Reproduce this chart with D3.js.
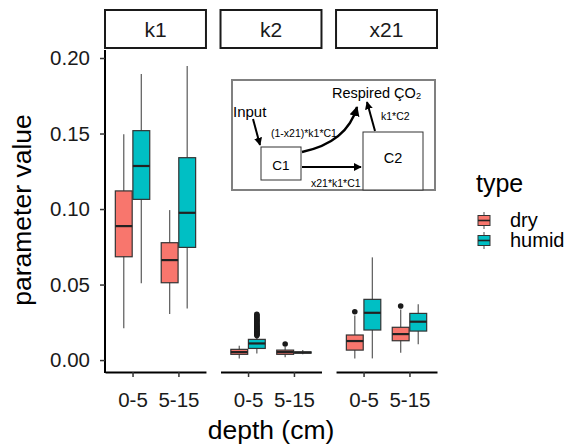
<!DOCTYPE html>
<html>
<head>
<meta charset="utf-8">
<script src="https://cdn.jsdelivr.net/npm/d3@7"></script>
<style>
body { margin: 0; background: white; }
text { font-family: "Liberation Sans", Arial, sans-serif; }
</style>
</head>
<body>
<svg></svg>
<script>
var params = ["k1", "k2", "x21"];
var depths = ["0-5", "5-15"];
var types = ["dry", "humid"];
var yTicks = [0, 0.05, 0.10, 0.15, 0.20];

// [low whisker, q1, median, q3, high whisker]
// order: k1 0-5, k1 5-15, k2 0-5, k2 5-15, x21 0-5, x21 5-15
var dryStats = [
	[0.021, 0.0684, 0.0887, 0.112, 0.1495],
	[0.0305, 0.0512, 0.0662, 0.0777, 0.0993],
	[0.0011, 0.0038, 0.0053, 0.0071, 0.0095],
	[0.0018, 0.0038, 0.0053, 0.0066, 0.0088],
	[0.0011, 0.0066, 0.0126, 0.0166, 0.0295],
	[0.0048, 0.0128, 0.0172, 0.0217, 0.0335]
];
var humidStats = [
	[0.0508, 0.1064, 0.1285, 0.1519, 0.1894],
	[0.0342, 0.0746, 0.0975, 0.134, 0.1947],
	[0.0044, 0.0077, 0.011, 0.0137, 0.0158],
	[0.0038, 0.0046, 0.005, 0.0054, 0.0066],
	[0.0011, 0.0199, 0.0313, 0.0402, 0.068],
	[0.0104, 0.0192, 0.0254, 0.0309, 0.0369]
];
var dryOutliers = [[], [], [], [0.0106], [0.032], [0.0358]];
var humidOutliers = [[], [], [0.0162, 0.0167, 0.0171, 0.0176, 0.018, 0.0185, 0.019, 0.0194, 0.0199, 0.0204,
	0.0209, 0.0214, 0.0219, 0.0224, 0.0229, 0.0234, 0.024, 0.0246, 0.0252, 0.0258, 0.0264, 0.027,
	0.0276, 0.0282, 0.0289, 0.0296, 0.0303], [], [], []];

var fills = {dry: "#F8766D", humid: "#00BFC4"};

var svg = d3.select("svg").attr("width", 572).attr("height", 447).style("background-color", "white");

var top_ = 50, bottom = 372;
var y = d3.scaleLinear().domain([-0.0079, 0.2053]).range([bottom, top_]);
var panel = d3.scaleBand().domain(params).range([105, 437]).paddingInner(0.126);
var w = panel.bandwidth();
var xDepth = d3.scalePoint().domain(depths).range([0, w]).padding(0.6);
var step = xDepth.step();
var xType = d3.scaleBand().domain(types).range([-0.375 * step, 0.375 * step]).paddingInner(0.04);

var boxes = [];
params.forEach(function(p, i){
	depths.forEach(function(d, j){
		types.forEach(function(t){
			var s = (t == "dry" ? dryStats : humidStats)[i * 2 + j];
			var o = (t == "dry" ? dryOutliers : humidOutliers)[i * 2 + j];
			boxes.push({param: p, depth: d, type: t, s: s, out: o});
		});
	});
});

function cx(b){ return panel(b.param) + xDepth(b.depth) + xType(b.type) + xType.bandwidth() / 2; }

// strips
params.forEach(function(p){
	svg.append("rect").attr("x", panel(p)).attr("y", 10).attr("width", w).attr("height", 38)
		.style("fill", "white").style("stroke", "#1a1a1a").style("stroke-width", 2);
	svg.append("text").attr("x", panel(p) + w / 2).attr("y", 37).attr("text-anchor", "middle")
		.style("font-size", "21px").style("fill", "#1a1a1a").text(p);
});

// y axis
var yAxis = svg.append("g").attr("transform", "translate(105,0)")
	.call(d3.axisLeft(y).tickValues(yTicks).tickFormat(d3.format(".2f")).tickSize(5).tickSizeOuter(0).tickPadding(10));
yAxis.select(".domain").attr("d", "M0," + top_ + "V" + (bottom + 1));

// x axes
params.forEach(function(p){
	svg.append("g").attr("class", "xax").attr("transform", "translate(" + panel(p) + "," + bottom + ")")
		.call(d3.axisBottom(xDepth).tickSize(5).tickSizeOuter(0).tickPadding(15));
});

svg.selectAll(".domain").style("stroke", "black").style("stroke-width", 2);
svg.selectAll(".tick line").style("stroke", "#333").style("stroke-width", 1.5);
svg.selectAll(".tick text").style("font-size", "20.5px").style("fill", "#1a1a1a").style("font-family", "Liberation Sans, Arial, sans-serif");

// boxes
var g = svg.append("g");
var bw = xType.bandwidth();
boxes.forEach(function(b){
	var x = cx(b);
	g.append("line").attr("x1", x).attr("x2", x).attr("y1", y(b.s[0])).attr("y2", y(b.s[4]))
		.style("stroke", "#666").style("stroke-width", 1.3);
	g.append("rect").attr("x", x - bw / 2).attr("width", bw)
		.attr("y", y(b.s[3])).attr("height", y(b.s[1]) - y(b.s[3]))
		.style("fill", fills[b.type]).style("stroke", "#333").style("stroke-width", 1.2);
	g.append("line").attr("x1", x - bw / 2).attr("x2", x + bw / 2).attr("y1", y(b.s[2])).attr("y2", y(b.s[2]))
		.style("stroke", "#222").style("stroke-width", 2.2);
	g.selectAll(null).data(b.out).enter().append("circle")
		.attr("cx", x).attr("cy", function(v){ return y(v); }).attr("r", 2.8)
		.style("fill", "#1a1a1a");
});

// axis titles
svg.append("text").attr("transform", "translate(31,210) rotate(-90)").attr("text-anchor", "middle")
	.style("font-size", "26.5px").text("parameter value");
svg.append("text").attr("x", 271).attr("y", 439).attr("text-anchor", "middle")
	.style("font-size", "26.5px").text("depth (cm)");

// legend
var leg = svg.append("g");
leg.append("text").attr("x", 476).attr("y", 192).style("font-size", "25px").text("type");
types.forEach(function(t, i){
	var ky = 212 + i * 20;
	leg.append("line").attr("x1", 484).attr("x2", 484).attr("y1", ky).attr("y2", ky + 17)
		.style("stroke", "#666").style("stroke-width", 1.2);
	leg.append("rect").attr("x", 478).attr("y", ky + 3.5).attr("width", 12).attr("height", 10)
		.style("fill", fills[t]).style("stroke", "#333").style("stroke-width", 1);
	leg.append("line").attr("x1", 478).attr("x2", 490).attr("y1", ky + 8.5).attr("y2", ky + 8.5)
		.style("stroke", "#222").style("stroke-width", 1.6);
	leg.append("text").attr("x", 510).attr("y", ky + 15).style("font-size", "20px").text(t);
});

// inset model diagram
var ins = svg.append("g");
var defs = svg.append("defs");
defs.append("marker").attr("id", "ah").attr("viewBox", "0 0 10 10").attr("refX", 9).attr("refY", 5)
	.attr("markerWidth", 4).attr("markerHeight", 4).attr("orient", "auto")
	.append("path").attr("d", "M0,0L10,5L0,10z").style("fill", "black");
ins.append("rect").attr("x", 232).attr("y", 80).attr("width", 203).attr("height", 110)
	.style("fill", "white").style("stroke", "#808080").style("stroke-width", 2);
ins.append("rect").attr("x", 261).attr("y", 147).attr("width", 40).attr("height", 33)
	.style("fill", "white").style("stroke", "#333").style("stroke-width", 1);
ins.append("rect").attr("x", 363).attr("y", 132).attr("width", 60).attr("height", 58)
	.style("fill", "white").style("stroke", "#333").style("stroke-width", 1);
ins.append("text").attr("x", 281).attr("y", 170).attr("text-anchor", "middle").style("font-size", "13.5px").text("C1");
ins.append("text").attr("x", 393).attr("y", 163).attr("text-anchor", "middle").style("font-size", "14.5px").text("C2");
ins.append("text").attr("x", 233).attr("y", 117).style("font-size", "15px").text("Input");
ins.append("text").attr("x", 332).attr("y", 98).style("font-size", "14.5px").text("Respired ÇO₂");
ins.append("text").attr("x", 271).attr("y", 137).style("font-size", "10.5px").text("(1-x21)*k1*C1");
ins.append("text").attr("x", 311).attr("y", 187).style("font-size", "10.5px").text("x21*k1*C1");
ins.append("text").attr("x", 381).attr("y", 120).style("font-size", "10.5px").text("k1*C2");
ins.append("path").attr("d", "M253,119L260,145").style("stroke", "black").style("stroke-width", 2).attr("marker-end", "url(#ah)");
ins.append("path").attr("d", "M302,152C330,146 350,132 357,107").style("fill", "none")
	.style("stroke", "black").style("stroke-width", 2.5).attr("marker-end", "url(#ah)");
ins.append("path").attr("d", "M302,167L361,167").style("stroke", "black").style("stroke-width", 2).attr("marker-end", "url(#ah)");
ins.append("path").attr("d", "M375,131L367,102").style("stroke", "black").style("stroke-width", 2).attr("marker-end", "url(#ah)");
</script>
</body>
</html>
